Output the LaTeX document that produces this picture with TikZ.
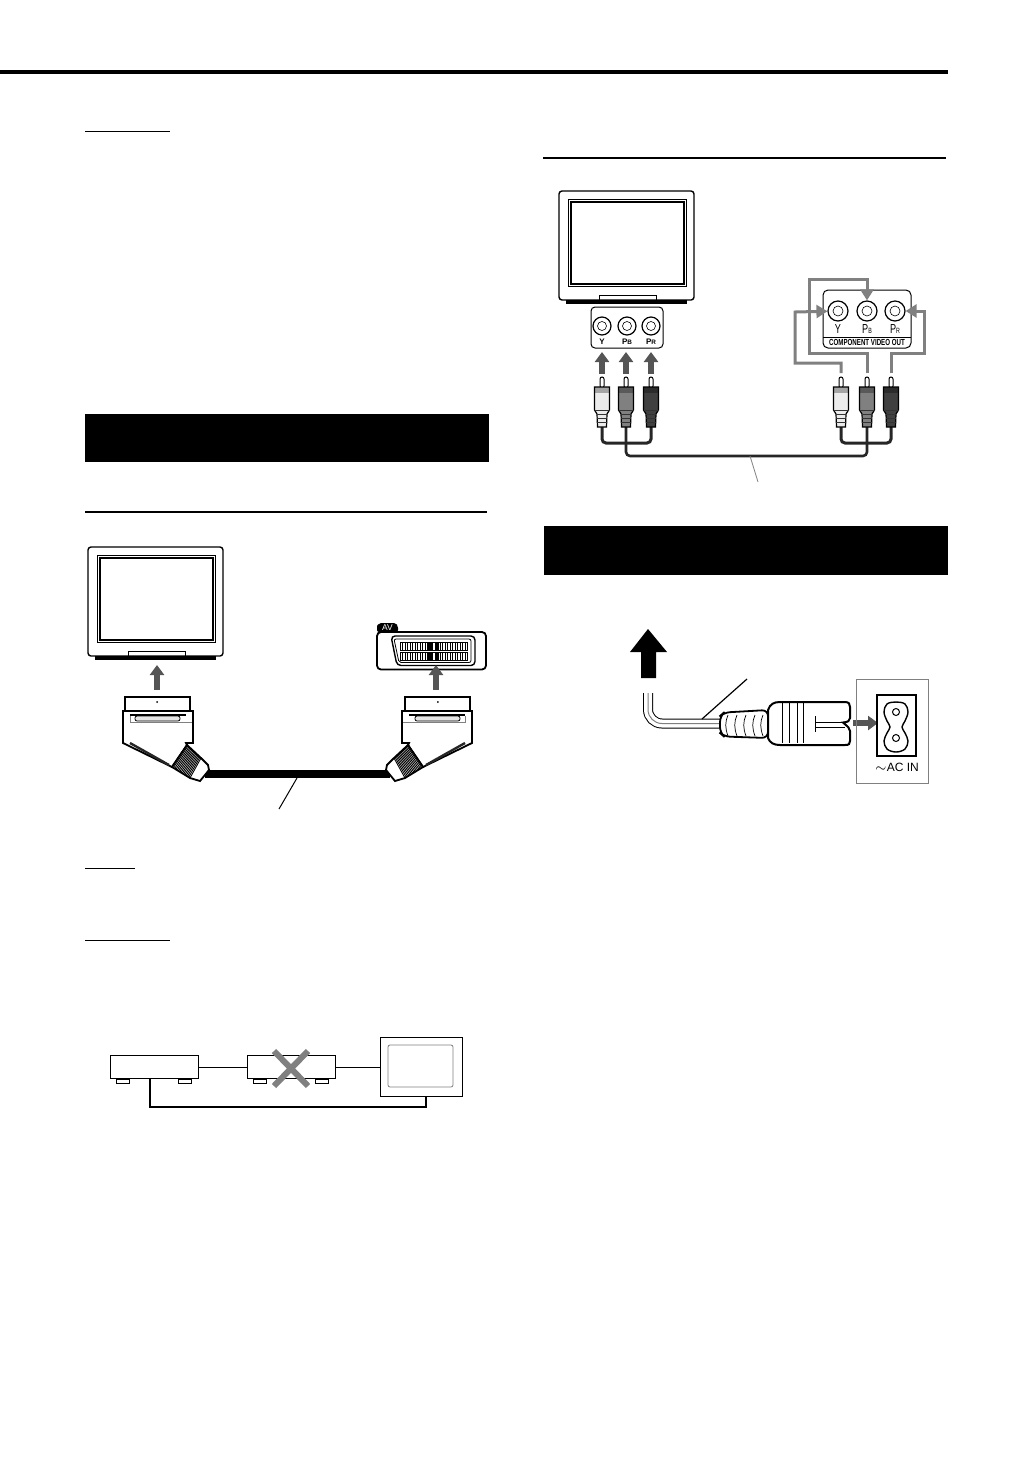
\documentclass[tikz,border=0pt]{standalone}
\usepackage{fontspec}
\setmainfont{Liberation Sans}
\newfontfamily\narrowfont[FakeStretch=0.7]{Liberation Sans}
\usetikzlibrary{arrows.meta,calc}
\definecolor{arrowgray}{HTML}{555555}
\definecolor{routegray}{HTML}{808080}
\newcommand{\subfont}{\fontsize{3.2}{3.2}\selectfont}
\tikzset{
  upper/.style={draw=arrowgray,line width=3pt,-{Triangle[width=7pt,length=5pt]}},
  route/.style={draw=routegray,line width=1.5pt,-{Triangle[width=6.5pt,length=5.5pt]}},
  rcawire/.style={draw=black!85,line width=1.5pt,rounded corners=2pt},
  jack/.style={circle,draw,line width=.6pt,minimum size=9pt,inner sep=0pt},
  deck/.style={draw,fill=white,line width=.5pt,minimum width=44pt,minimum height=11.5pt,inner sep=0pt},
  foot/.style={draw,fill=white,line width=.4pt},
  tvset/.pic={
    \draw[line width=.7pt,rounded corners=1.5pt] (0,0) rectangle (135,109);
    \draw[line width=.4pt] (9,8) rectangle (127,95);
    \draw[line width=.6pt] (12,11) rectangle (125,93);
    \draw[line width=.3pt] (40,109) |- (97,104) -- (97,109);
    \fill (7,109) rectangle (128,112.5);
  },
  scartplug/.pic={
    \draw[line width=.9pt,fill=white] (-33,0) rectangle (32,14);
    \draw[line width=.9pt,fill=white] (-35,14) -- (-35,46) -- (14,70) -- (29,48) -- (28,46) -- (35,46) -- (35,14) -- cycle;
    \fill (-28,17) rectangle (28,18.5);
    \draw[line width=.4pt,fill=black!10,rounded corners=1pt] (-23,19) rectangle (22,24);
    \draw[line width=.3pt,draw=gray] (-28,19) |- (-24,25.5) -- (23,25.5) -- (34,25.5);
    \fill (-.8,5) circle (1);
    \draw[line width=1.2pt,black!85,dash pattern=on .5pt off .15pt] (-28,46) -- (11,68);
    \draw[line width=.9pt,fill=white] (29,48) -- (43,61) -- (50,68) -- (51,73) -- (42,84) -- (32,81) -- (14,70) -- cycle;
    \foreach \t in {0,...,14}
      \draw[line width=.45pt] ($(29,48)!\t/14!(43,61)$) -- ($(14,70)!\t/14!(32,81)$);
  },
  rcaplug/.pic={
    \draw[line width=.5pt,fill=white,rounded corners=1pt] (-2,0) rectangle (2,11);
    \draw[line width=.6pt,fill=#1] (-7.5,10) -- (7.5,10) -- (7.5,33) -- (5,37) -- (4.5,50) -- (-4.5,50) -- (-5,37) -- (-7.5,33) -- cycle;
    \fill[black,opacity=.3] (-7.5,10) rectangle (7.5,16);
    \draw[line width=.4pt,black!80] (-7.5,33) -- (7.5,33) (-5,37) -- (5,37) (-4.9,41) -- (4.9,41) (-4.7,45) -- (4.7,45);
  }
}
\begin{document}
\begin{tikzpicture}[x=.5pt,y=-.5pt]
\useasboundingbox (0,0) rectangle (1031,1457);
% page rules and headings
\fill (0,70) rectangle (948,74);
\draw[line width=.5pt] (85,131)--(170,131);
\draw[line width=1pt] (543,157.5)--(946,157.5);
\fill (85,414) rectangle (489,462);
\draw[line width=1pt] (85,511.5)--(487,511.5);
\draw[line width=.5pt] (85,868)--(135,868);
\draw[line width=.5pt] (85,940)--(170,940);
\fill (544,526) rectangle (948,575);
% left connection
\pic at (88,547) {tvset};
\draw[upper] (157,690)--(157,665);
\draw[line width=.9pt,rounded corners=2pt,fill=white] (377,632) rectangle (486,669.5);
\fill (377,632)--(377,626)[rounded corners=1pt]--(379,623)--(396,623)--(398,626)--(398,632)--cycle;
\node[text=white,font=\fontsize{4.2}{4.2}\selectfont,inner sep=0pt] (avtag) at (387.5,628) {AV};
\draw[line width=.7pt,rounded corners=2pt] (391,636)--(475,636)--(475,665.5)--(397,665.5)--cycle;
\draw[line width=.4pt,rounded corners=1pt] (394,639)--(471,639)--(471,662.5)--(399,662.5)--cycle;
\foreach \y in {642,652.5}{
  \foreach \i in {0,...,27}
    \draw[line width=.35pt] ({400+2.5*\i},\y)--++(0,8);
  \fill (428,\y) rectangle ++(4,8);
  \fill (436,\y) rectangle ++(3,8);
  \draw[line width=.3pt] (400,\y) rectangle ++(67.5,8);
}
\draw[upper] (436,690)--(436,665);
\fill (205,770) rectangle (390,778);
\pic at (158,697) {scartplug};
\pic[xscale=-1] at (437,697) {scartplug};
\draw[line width=.5pt] (297,778)--(279,809);
% right connection
\pic at (559,191) {tvset};
\draw[line width=.5pt,rounded corners=2pt] (591,307) rectangle (663,348);
\foreach \x/\n in {602/tvY,627/tvB,651/tvR}{
  \node[jack] (\n) at (\x,326) {};
  \draw[line width=.3pt] (\n.center) circle (4.5);
}
\node[font=\bfseries\fontsize{4}{4}\selectfont,inner sep=0pt] (tvYt) at (602,342) {Y};
\node[font=\bfseries\fontsize{4}{4}\selectfont,inner sep=0pt] (tvBt) at (627,342) {P{\subfont B}};
\node[font=\bfseries\fontsize{4}{4}\selectfont,inner sep=0pt] (tvRt) at (651,342) {P{\subfont R}};
\foreach \x in {602,626,651}
  \draw[upper] (\x,374)--(\x,352);
\draw[rcawire] (602,427)|-(651,443)--(651,427);
\draw[rcawire,line width=1.3pt] (626,427)--(626,456)--(867,456)--(867,427);
\draw[rcawire] (841,427)|-(891,443)--(891,427);
\pic at (602,377) {rcaplug=black!8};
\pic at (626,377) {rcaplug=black!50};
\pic at (651,377) {rcaplug=black!75};
\pic at (841,377) {rcaplug=black!8};
\pic at (867,377) {rcaplug=black!50};
\pic at (891,377) {rcaplug=black!75};
\draw[line width=.4pt,gray] (750,456)--(758,482);
\draw[line width=.5pt,rounded corners=2.5pt] (823,290) rectangle (911,348);
\draw[line width=.5pt] (823,337)--(911,337);
\foreach \x/\n in {838/outY,867/outB,895/outR}{
  \node[jack,minimum size=10pt] (\n) at (\x,311) {};
  \draw[line width=.3pt] (\n.center) circle (5);
}
\node[font=\narrowfont\fontsize{6.5}{6.5}\selectfont,inner sep=0pt] (outYt) at (838,329) {Y};
\node[font=\narrowfont\fontsize{6.5}{6.5}\selectfont,inner sep=0pt] (outBt) at (867,329) {P{\fontsize{3.8}{3.8}\selectfont B}};
\node[font=\narrowfont\fontsize{6.5}{6.5}\selectfont,inner sep=0pt] (outRt) at (895,329) {P{\fontsize{3.8}{3.8}\selectfont R}};
\node[font=\narrowfont\bfseries\fontsize{4.4}{4.4}\selectfont,inner sep=0pt] (outname) at (867,342.5) {COMPONENT VIDEO OUT};
\draw[route] (841,373)--(841,363)--(795,363)--(795,312)--(outY);
\draw[route] (867,373)--(867,353)--(809,353)--(809,279)--(867,279)--(outB);
\draw[route] (891,373)--(891,353)--(924,353)--(924,311)--(outR);
% power cord
\fill (648,629)--(667,652)--(656,652)--(656,678)--(641,678)--(641,652)--(630,652)--cycle;
\foreach \c/\w in {black/5pt,white/4pt,gray/.5pt}
  \draw[draw=\c,line width=\w,rounded corners=7pt] (648,693)--(648,723.5)--(722,723.5);
\draw[line width=.6pt] (702,719)--(747,679);
\draw[line width=.9pt,fill=white,rounded corners=3pt] (768,710)--(724,712.5)--(720,716)--(720,733)--(724,736.5)--(768,738)--cycle;
\foreach \x in {728,737,746,755,763}
  \draw[line width=.35pt] (\x,715) .. controls (\x-3,722) and (\x-3,728) .. (\x,736);
\draw[line width=1pt,fill=white] (768,710) .. controls (770,704) and (774,702) .. (780,702) -- (845,702) .. controls (849,702) and (850,704) .. (850,707) -- (850,718) .. controls (850,721) and (848,722) .. (843,722.5) .. controls (848,727) and (850,728) .. (850,731) -- (850,741) .. controls (850,744) and (849,745) .. (845,745) -- (780,745) .. controls (774,745) and (770,743) .. (768,738) -- cycle;
\foreach \x in {782,789,797,803}
  \draw[line width=.35pt] (\x,703)--(\x,743);
\draw[line width=.4pt] (815,716)--(815,732) (815,722)--(845,722) (815,727)--(845,727);
\draw[upper] (853,723)--(878,723);
\draw[line width=.5pt,draw=gray] (856,679) rectangle (928,783);
\draw[line width=.6pt] (877,695) rectangle (916,756);
\draw[line width=.7pt] plot[smooth cycle,tension=.6] coordinates {(896,702) (905,704) (908,712) (905,721) (902,727) (905,733) (908,741) (905,749) (896,752) (887,749) (884,741) (887,733) (890,727) (887,721) (884,712) (887,704)};
\draw[line width=.5pt] (896,712) circle (3.5);
\draw[line width=.5pt] (896,738) circle (3.5);
\node[font=\fontsize{6}{6}\selectfont,inner sep=0pt] (acin) at (897,767) {$\sim$AC IN};
% wrong connection
\foreach \x in {116,178,253,315}
  \draw[foot] (\x,1079) rectangle ++(13,4);
\node[deck] (player) at (154,1067) {};
\node[deck] (recorder) at (291,1067) {};
\node[draw,fill=white,line width=.5pt,minimum width=41pt,minimum height=29.5pt,inner sep=0pt] (monitor) at (421,1067) {};
\draw[line width=.4pt,draw=gray,rounded corners=1pt] (388,1045) rectangle (453,1087);
\draw[line width=.5pt] (player)--(recorder);
\draw[line width=.5pt] (recorder)--(monitor);
\draw[line width=1pt] ([xshift=-2pt]player.south)--++(0,28)-|([xshift=2.5pt]monitor.south);
\draw[line width=3pt,routegray] (274,1051)--(308,1086) (308,1051)--(274,1086);
\end{tikzpicture}
\end{document}
